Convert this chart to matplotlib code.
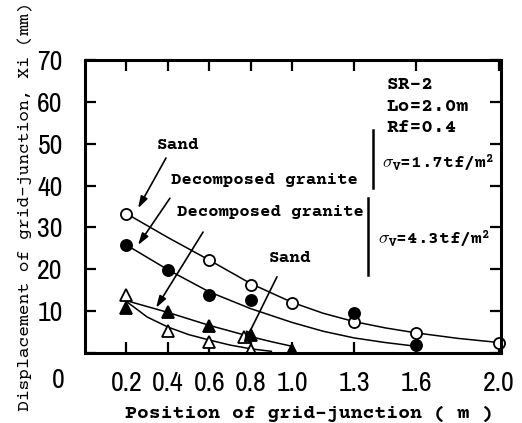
import matplotlib
matplotlib.use('Agg')
import matplotlib.pyplot as plt

plt.rcParams['font.family'] = ['Courier Prime', 'DejaVu Sans Mono']
plt.rcParams['font.weight'] = 'bold'
plt.rcParams['mathtext.fontset'] = 'custom'
plt.rcParams['mathtext.rm'] = 'Courier Prime:bold'
plt.rcParams['mathtext.it'] = 'Courier Prime:bold'
plt.rcParams['mathtext.bf'] = 'Courier Prime:bold'

NUM_FONT = 'Archivo Narrow'

# measured points
sand17_x = [0.2, 0.6, 0.8, 1.0, 1.3, 1.6, 2.0]
sand17_y = [33.3, 22.2, 16.2, 11.9, 7.4, 4.8, 2.4]
gran17_x = [0.2, 0.4, 0.6, 0.8, 1.3, 1.6]
gran17_y = [25.8, 19.8, 13.9, 12.6, 9.5, 1.9]
gran43_x = [0.2, 0.4, 0.6, 0.8, 1.0]
gran43_y = [10.7, 9.8, 6.4, 4.3, 0.6]
sand43_x = [0.2, 0.4, 0.6, 0.77, 0.8]
sand43_y = [13.8, 5.3, 2.6, 3.8, 0.8]

# fitted curves
sand17_cx = [0.2, 0.4, 0.6, 0.8, 1.0, 1.15, 1.3, 1.45, 1.6, 1.8, 2.0]
sand17_cy = [33.3, 27.6, 22.2, 16.6, 12.1, 9.5, 7.5, 6.0, 4.8, 3.5, 2.5]
gran17_cx = [0.2, 0.4, 0.6, 0.8, 1.0, 1.15, 1.3, 1.45, 1.6]
gran17_cy = [25.8, 19.9, 14.6, 10.6, 7.3, 5.2, 3.6, 2.5, 1.6]
gran43_cx = [0.2, 0.4, 0.6, 0.8, 0.9, 1.0]
gran43_cy = [12.5, 9.7, 6.6, 3.9, 2.7, 1.6]
sand43_cx = [0.2, 0.3, 0.4, 0.5, 0.6, 0.7, 0.8, 0.9]
sand43_cy = [12.3, 8.6, 6.2, 4.4, 3.1, 1.9, 1.0, 0.4]

xticks = [0.2, 0.4, 0.6, 0.8, 1.0, 1.3, 1.6, 2.0]
xticklabels = ['0.2', '0.4', '0.6', '0.8', '1.0', '1.3', '1.6', '2.0']
yticks = [0, 10, 20, 30, 40, 50, 60, 70]

fig = plt.figure(figsize=(5.22, 4.23), dpi=100)
ax = fig.add_axes([0.163, 0.1655, 0.797, 0.6925])

lw = 1.1
ax.plot(sand17_cx, sand17_cy, color='black', lw=lw)
ax.plot(gran17_cx, gran17_cy, color='black', lw=lw)
ax.plot(gran43_cx, gran43_cy, color='black', lw=lw)
ax.plot(sand43_cx, sand43_cy, color='black', lw=lw)

ax.plot(sand17_x, sand17_y, 'o', ms=8, mfc='white', mec='black', mew=1.3, clip_on=False)
ax.plot(gran17_x, gran17_y, 'o', ms=8, mfc='black', mec='black', mew=1.3)
ax.plot(sand43_x, sand43_y, '^', ms=9, mfc='white', mec='black', mew=1.3)
ax.plot(gran43_x, gran43_y, '^', ms=9, mfc='black', mec='black', mew=1.3)

ax.set_xlim(0, 2.01)
ax.set_ylim(0, 70)
ax.set_xticks(xticks)
ax.set_xticklabels(xticklabels, fontfamily=NUM_FONT, fontweight='normal', fontsize=20)
ax.set_yticks(yticks)
ax.set_yticklabels([''] + [str(v) for v in yticks[1:]], fontfamily=NUM_FONT,
                   fontweight='normal', fontsize=20)
ax.tick_params(direction='in', length=8, width=1.6, top=True, right=True)
ax.tick_params(axis='x', pad=13)
ax.tick_params(axis='y', pad=16)
for s in ax.spines.values():
    s.set_linewidth(2.2)
ax.annotate('0', xy=(0, 0), xycoords=('data', 'axes fraction'), xytext=(-27, -15),
            textcoords='offset pixels', ha='center', va='top',
            fontfamily=NUM_FONT, fontweight='normal', fontsize=20)

ax.set_ylabel('Displacement of grid-junction, Xi (mm)', fontsize=13)
ax.yaxis.set_label_coords(-0.125, 0.5)
fig.text(0.592, 0.021, 'Position of grid-junction ( m )', fontsize=14.3,
         ha='center', va='center')

arrow = dict(arrowstyle='-|>,head_length=0.7,head_width=0.22', color='black',
             lw=1.2, shrinkA=0, shrinkB=0)
ax.annotate('', xy=(0.256, 34.6), xytext=(0.391, 46.6), arrowprops=arrow)
ax.annotate('', xy=(0.256, 25.8), xytext=(0.410, 37.0), arrowprops=arrow)
ax.annotate('', xy=(0.343, 10.8), xytext=(0.570, 28.9), arrowprops=arrow)
ax.annotate('', xy=(0.767, 2.2), xytext=(0.927, 18.2), arrowprops=arrow)

ax.text(0.449, 49.7, 'Sand', fontsize=12.8, ha='center', va='center')
ax.text(0.415, 41.3, 'Decomposed granite', fontsize=12.5, ha='left', va='center')
ax.text(0.444, 33.7, 'Decomposed granite', fontsize=12.5, ha='left', va='center')
ax.text(0.989, 22.7, 'Sand', fontsize=12.8, ha='center', va='center')

ax.text(1.458, 64.0, 'SR-2', fontsize=14, ha='left', va='center')
ax.text(1.458, 58.8, 'Lo=2.0m', fontsize=14, ha='left', va='center')
ax.text(1.458, 53.7, 'Rf=0.4', fontsize=14, ha='left', va='center')
ax.text(1.433, 45.4, r'$\sigma_V$=1.7tf/m$^2$', fontsize=12.8, ha='left', va='center')
ax.text(1.414, 27.2, r'$\sigma_V$=4.3tf/m$^2$', fontsize=12.8, ha='left', va='center')

ax.plot([1.39, 1.39], [39.4, 53.3], color='black', lw=1.8)
ax.plot([1.366, 1.366], [18.6, 37.0], color='black', lw=1.8)

fig.savefig('out.png')
